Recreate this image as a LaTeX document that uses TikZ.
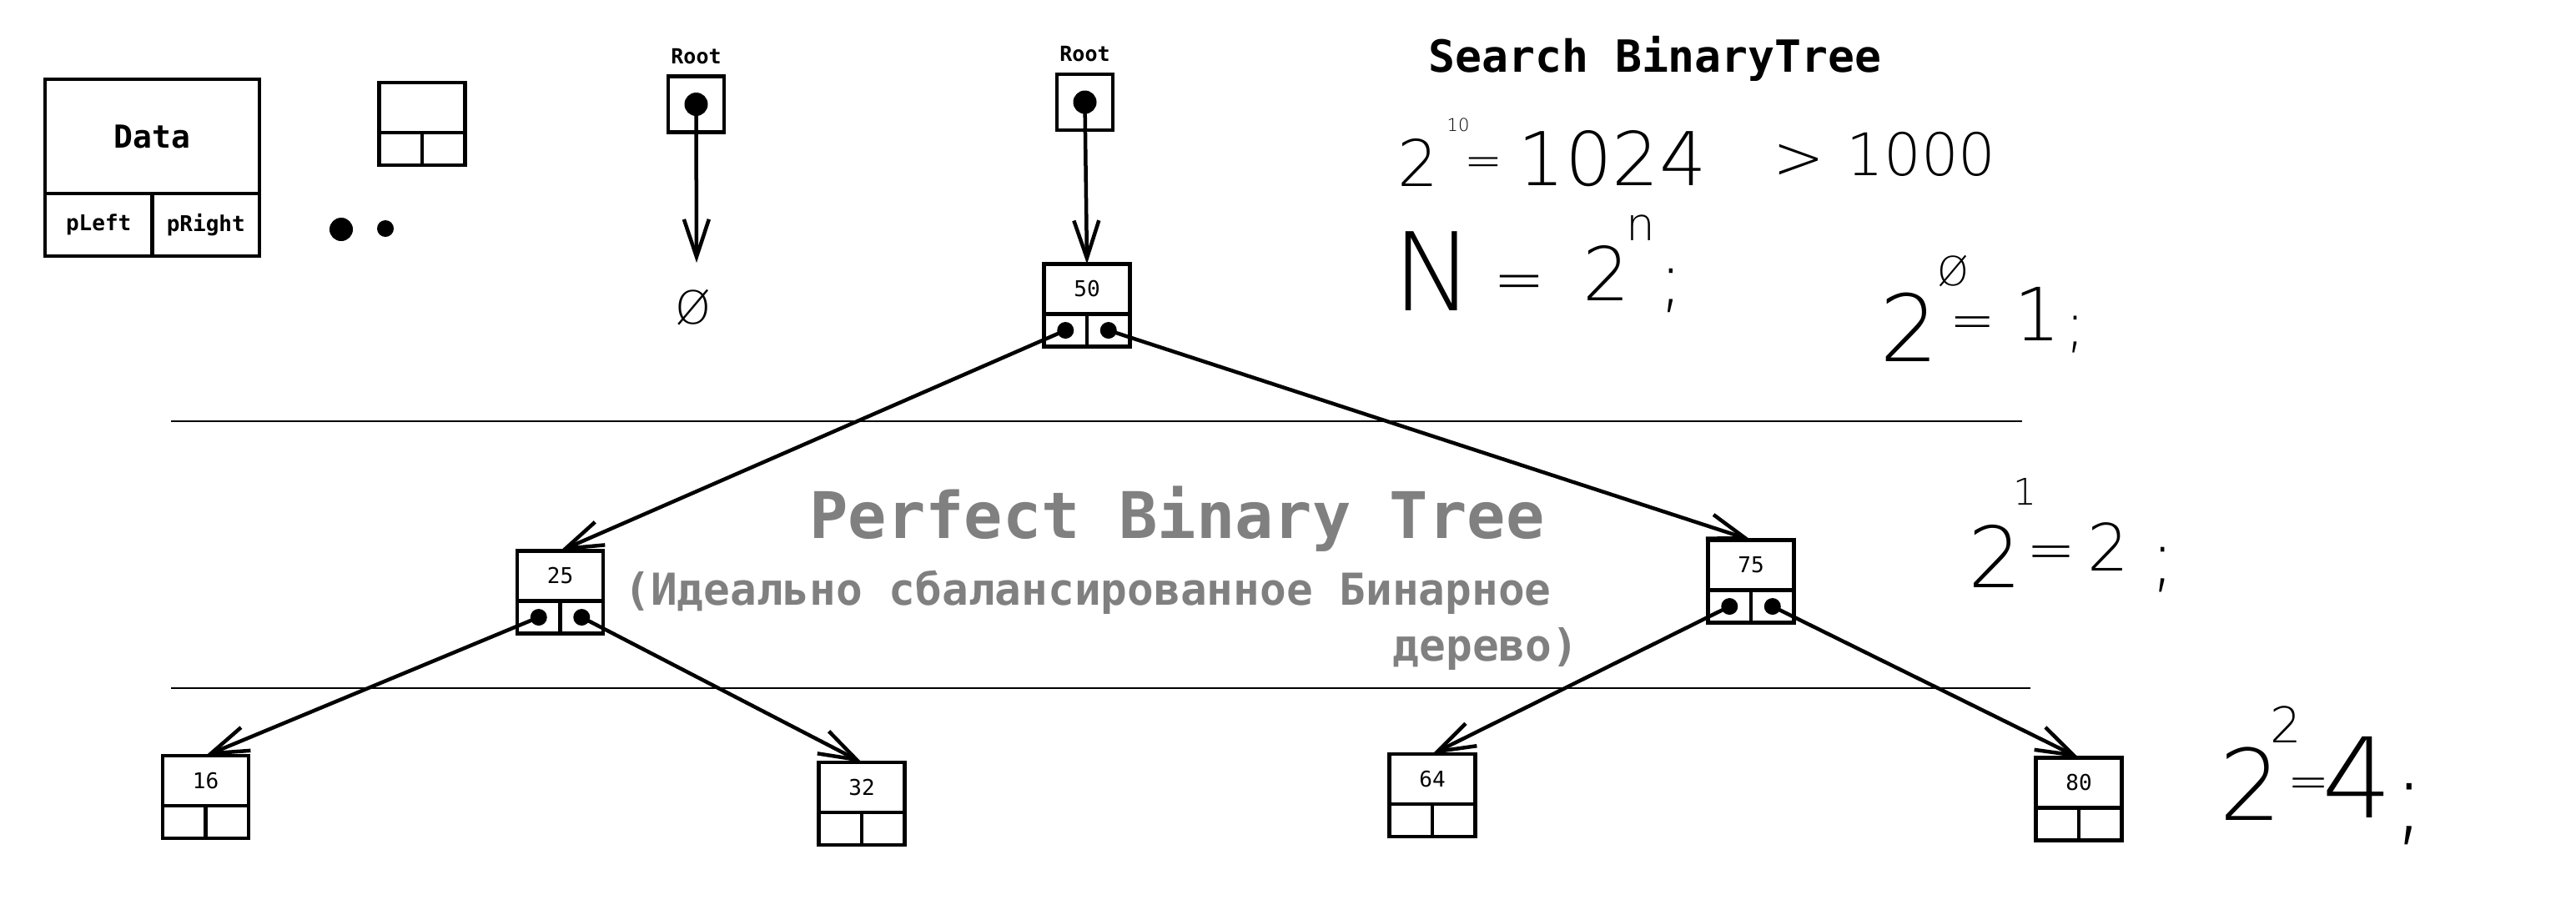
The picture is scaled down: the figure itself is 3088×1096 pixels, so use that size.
\documentclass[tikz,border=0pt]{standalone}
\usepackage{fontspec}
\setmonofont{DejaVu Sans Mono}
\IfFontExistsTF{DejaVu Sans ExtraLight}
  {\newfontfamily\handfont{DejaVu Sans ExtraLight}}
  {\newfontfamily\handfont{DejaVu Sans}}
\usetikzlibrary{arrows.meta,positioning}
\definecolor{titlegray}{RGB}{128,128,128}
\tikzset{
  cell/.style={draw, line width=0.045cm, inner sep=0pt, outer sep=0pt},
  valbox/.style={cell, minimum width=1.03cm, minimum height=0.6cm,
    font=\ttfamily\fontsize{7.4}{9}\selectfont},
  ptrbox/.style={cell, minimum width=0.515cm, minimum height=0.39cm},
  ptr/.style={line width=0.045cm, -{Straight Barb[length=0.45cm,width=0.3cm]}},
  rootlabel/.style={inner sep=0pt, font=\ttfamily\bfseries\fontsize{7.1}{9}\selectfont},
  hand/.style={inner sep=0pt, anchor=base, font=\handfont\fontsize{#1}{#1}\selectfont},
  sepline/.style={line width=0.015cm}
}
\newcommand{\treenode}[4]{%
  \node[valbox] (#1) at (#2,#3) {#4};
  \node[ptrbox, anchor=north west] (#1l) at (#1.south west) {};
  \node[ptrbox, anchor=north east] (#1r) at (#1.south east) {};}
\begin{document}
\begin{tikzpicture}[x=0.01cm, y=-0.01cm]
  \useasboundingbox (0,0) rectangle (3088,1096);

  \node[cell, minimum width=2.57cm, minimum height=1.37cm,
    font=\ttfamily\bfseries\fontsize{10.8}{13}\selectfont] (data) at (182.5,163.5) {Data};
  \node[cell, minimum width=1.285cm, minimum height=0.75cm, anchor=north west,
    font=\ttfamily\bfseries\fontsize{7.4}{9}\selectfont] (pleft) at (data.south west) {pLeft};
  \node[cell, minimum width=1.285cm, minimum height=0.75cm, anchor=north east,
    font=\ttfamily\bfseries\fontsize{7.4}{9}\selectfont] (pright) at (data.south east) {pRight};
  \treenode{mini}{506}{129}{}
  \fill (409,275) circle (0.14cm);
  \fill (462,274) circle (0.1cm);

  \node[cell, minimum size=0.67cm] (roota) at (834.5,125) {};
  \node[rootlabel, above=0.14cm of roota] (rootatext) {Root};
  \fill (roota) circle (0.14cm);
  \coordinate (nullend) at (835,315);
  \draw[ptr] (roota.center) -- (nullend);
  \node[hand=15.6] (nullsym) at (831,388) {Ø};

  \node[cell, minimum size=0.67cm] (rootb) at (1300.5,122.5) {};
  \node[rootlabel, above=0.14cm of rootb] (rootbtext) {Root};
  \fill (rootb) circle (0.14cm);

  \treenode{n50}{1303}{346.5}{50}
  \treenode{n25}{671.5}{690.5}{25}
  \treenode{n75}{2099}{677.5}{75}
  \treenode{n16}{246.5}{936}{16}
  \treenode{n32}{1033}{944}{32}
  \treenode{n64}{1717}{934}{64}
  \treenode{n80}{2492}{938.5}{80}
  \foreach \p in {n50l,n50r,n25l,n25r,n75l,n75r}
    \fill (\p) circle (0.1cm);

  \draw[ptr] (rootb.center) -- (n50.north);
  \draw[ptr] (n50l.center) -- (n25.north);
  \draw[ptr] (n50r.center) -- (n75.north);
  \draw[ptr] (n25l.center) -- (n16.north);
  \draw[ptr] (n25r.center) -- (n32.north);
  \draw[ptr] (n75l.center) -- (n64.north);
  \draw[ptr] (n75r.center) -- (n80.north);

  \draw[sepline] (205,505) -- (2424,505);
  \draw[sepline] (205,825) -- (2434,825);

  \node[inner sep=0pt, anchor=base, font=\ttfamily\bfseries\fontsize{15.1}{18}\selectfont]
    (title) at (1984,86) {Search BinaryTree};
  \node[inner sep=0pt, anchor=base, text=titlegray,
    font=\ttfamily\bfseries\fontsize{21.9}{26}\selectfont] (perfect) at (1411,645) {Perfect Binary Tree};
  \node[inner sep=0pt, anchor=base, text=titlegray,
    font=\ttfamily\bfseries\fontsize{15}{18}\selectfont] (ideal) at (1304,725) {(Идеально сбалансированное Бинарное};
  \node[inner sep=0pt, anchor=base, text=titlegray,
    font=\ttfamily\bfseries\fontsize{15}{18}\selectfont] (derevo) at (1781,792) {дерево)};

  \node[hand=21.9] (f1two) at (1700,223) {2};
  \node[hand=6] (f1exp) at (1748,157) {10};
  \node[hand=15.6] (f1eq) at (1778,211) {=};
  \node[hand=25.3] (f1val) at (1933,222) {1024};
  \node[hand=21] (f1gt) at (2156,214) {>};
  \node[hand=20] (f1lim) at (2303,210) {1000};

  \node[hand=37] (f2n) at (1718,372) {N};
  \node[hand=21] (f2eq) at (1821,360) {=};
  \node[hand=25.3] (f2two) at (1926,360) {2};
  \node[hand=15.6] (f2exp) at (1967,288) {n};
  \node[hand=25] (f2semi) at (2003,364) {;};

  \node[hand=31.6] (f3two) at (2289,433) {2};
  \node[hand=13.7] (f3exp) at (2341,342) {Ø};
  \node[hand=18.5] (f3eq) at (2365,406) {=};
  \node[hand=25] (f3one) at (2442,408) {1};
  \node[hand=21] (f3semi) at (2488,414) {;};

  \node[hand=28.8] (f4two) at (2392,704) {2};
  \node[hand=12.5] (f4exp) at (2427,605) {1};
  \node[hand=20] (f4eq) at (2459,683) {=};
  \node[hand=22.2] (f4val) at (2527,684) {2};
  \node[hand=25.6] (f4semi) at (2593,699) {;};

  \node[hand=33.6] (f5two) at (2698,983) {2};
  \node[hand=16.8] (f5exp) at (2740,890) {2};
  \node[hand=17] (f5eq) at (2768,957) {=};
  \node[hand=37.9] (f5val) at (2826,980) {4};
  \node[hand=35] (f5semi) at (2888,998) {;};
\end{tikzpicture}
\end{document}
